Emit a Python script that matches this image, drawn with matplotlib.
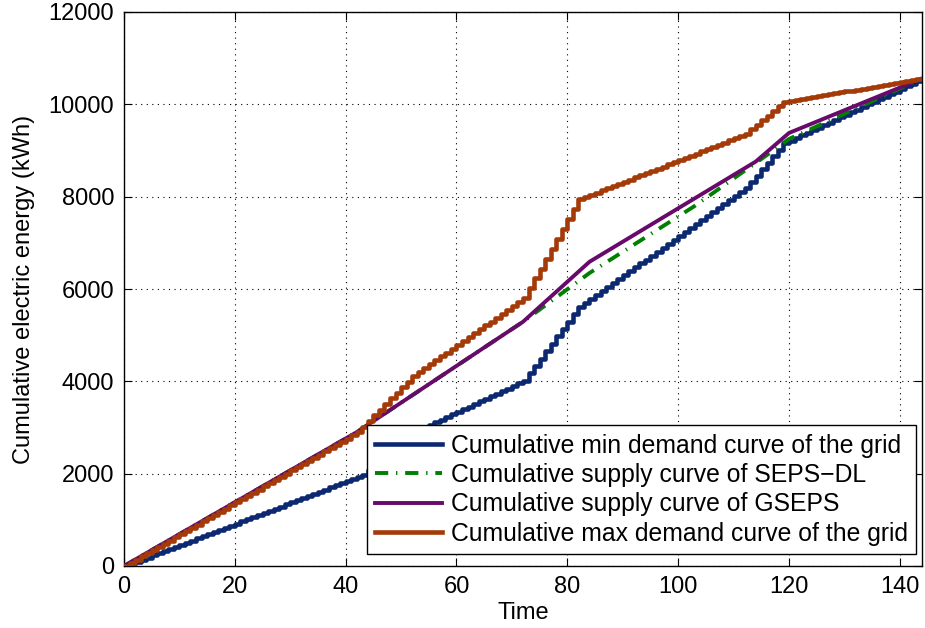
import numpy as np
import matplotlib
matplotlib.use("Agg")
import matplotlib.pyplot as plt

# ---- data ----
# per-slot demand rates (kWh per time slot) by segment; segment end times
min_seg_end = [43, 53, 72, 82, 112, 119, 144]
min_seg_rate = [46, 97, 56, 160, 85.5, 140, 56]

max_seg_end = [42, 52, 72, 82, 112, 119, 144]
max_seg_rate = [69, 122, 84, 215, 47, 100, 20]

# piecewise-linear supply curves (breakpoints)
gseps_t = [0, 42, 72, 84, 114, 120, 144]
gseps_e = [0, 2900, 5290, 6590, 8760, 9380, 10560]

sepsdl_t = [0, 42, 72, 84, 103, 116, 120, 144]
sepsdl_e = [0, 2900, 5290, 6346, 7800, 8900, 9250, 10560]

labels = ["Cumulative min demand curve of the grid",
          "Cumulative supply curve of SEPS\u2212DL",
          "Cumulative supply curve of GSEPS",
          "Cumulative max demand curve of the grid"]

xticks = [0, 20, 40, 60, 80, 100, 120, 140]
yticks = [0, 2000, 4000, 6000, 8000, 10000, 12000]

# ---- build cumulative stair series ----
def cumulative(seg_end, seg_rate):
    starts = [0] + seg_end[:-1]
    counts = [e - s for s, e in zip(starts, seg_end)]
    per_slot = np.repeat(seg_rate, counts)
    return np.concatenate([[0.0], np.cumsum(per_slot)])

t = np.arange(0, max_seg_end[-1] + 1)
min_cum = cumulative(min_seg_end, min_seg_rate)
max_cum = cumulative(max_seg_end, max_seg_rate)

plt.rcParams['font.family'] = ['Liberation Sans', 'DejaVu Sans']

fig = plt.figure(figsize=(9.25, 6.28), dpi=100)
ax = fig.add_axes([124/925, 62/628, (922-124)/925, (566-12)/628])

c_blue = "#0B2870"
c_green = "#008000"
c_purple = "#680A6C"
c_orange = "#A33A08"

l1, = ax.step(t, min_cum, where='post', color=c_blue, lw=3.3, label=labels[0], zorder=3)
l2, = ax.plot(sepsdl_t, sepsdl_e, color=c_green, lw=2.8,
              linestyle=(0, (3.4, 2.0, 0.35, 2.0)), label=labels[1], zorder=4)
l3, = ax.plot(gseps_t, gseps_e, color=c_purple, lw=2.8, label=labels[2], zorder=5)
l4, = ax.step(t, max_cum, where='post', color=c_orange, lw=3.3, label=labels[3], zorder=6)

ax.set_xlim(0, 144)
ax.set_ylim(0, 12000)
ax.set_xticks(xticks)
ax.set_yticks(yticks)
ax.tick_params(direction='in', length=6, width=0.8, top=True, right=True,
               labelsize=17, pad=7)
ax.grid(True, color='black', linestyle=(0, (1, 4)), linewidth=0.8)
for s in ax.spines.values():
    s.set_linewidth(1.0)

ax.set_xlabel("Time", fontsize=17, labelpad=3)
ax.set_ylabel("Cumulative electric energy (kWh)", fontsize=17, labelpad=10)

leg = ax.legend(handles=[l1, l2, l3, l4], loc='lower right', fontsize=17.8,
                bbox_to_anchor=(916/925, (628-554)/628),
                bbox_transform=fig.transFigure,
                frameon=True, fancybox=False, edgecolor='black',
                framealpha=1, borderaxespad=0, handlelength=2.7,
                handletextpad=0.35, labelspacing=0.22, borderpad=0.33)
leg.get_frame().set_linewidth(1.0)
leg.set_zorder(10)

fig.savefig("out.png", dpi=100)
